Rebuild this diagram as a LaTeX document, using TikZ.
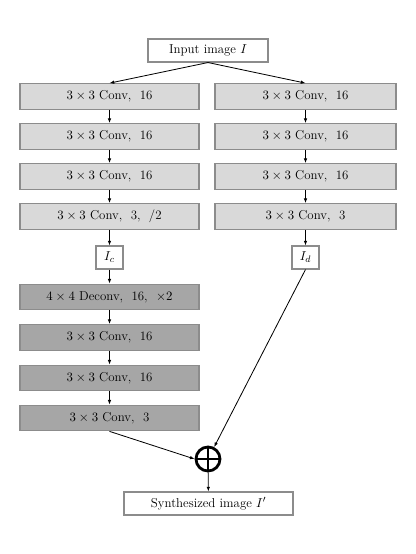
\documentclass[tikz,border=0pt]{standalone}
\usetikzlibrary{arrows.meta}
\definecolor{boxline}{HTML}{8C8C8C}
\definecolor{lightfill}{HTML}{D9D9D9}
\definecolor{darkfill}{HTML}{A6A6A6}
\begin{document}
\begin{tikzpicture}[x=0.03cm, y=-0.03cm, >={Latex[length=4pt,width=3pt]}, line width=0.7pt,
		font=\fontsize{11}{13}\selectfont]
	\tikzset{
		layer/.style={draw=boxline, line width=0.9pt, minimum width=5.37cm, minimum height=0.77cm, inner sep=0pt},
		light/.style={layer, fill=lightfill},
		dark/.style={layer, fill=darkfill},
		plain/.style={draw=boxline, line width=0.9pt, fill=white, minimum height=0.69cm, inner sep=2pt}
	}
	\useasboundingbox (0,0) rectangle (415,554);
	% input and two branches
	\node [plain, minimum width=3.6cm] (input) at (208,50.5) {Input image $I$};
	\node [light] (c1) at (109.5,96.5) {$3\times3$ Conv,~ 16};
	\node [light] (c2) at (109.5,136.5) {$3\times3$ Conv,~ 16};
	\node [light] (c3) at (109.5,176.5) {$3\times3$ Conv,~ 16};
	\node [light] (c4) at (109.5,216.5) {$3\times3$ Conv,~ 3,~ /2};
	\node [light, minimum width=5.43cm] (d1) at (305.5,96.5) {$3\times3$ Conv,~ 16};
	\node [light, minimum width=5.43cm] (d2) at (305.5,136.5) {$3\times3$ Conv,~ 16};
	\node [light, minimum width=5.43cm] (d3) at (305.5,176.5) {$3\times3$ Conv,~ 16};
	\node [light, minimum width=5.43cm] (d4) at (305.5,216.5) {$3\times3$ Conv,~ 3};
	\node [plain, minimum width=0.81cm] (ic) at (109.5,257.5) {$I_c$};
	\node [plain, minimum width=0.81cm] (id) at (305.5,257.5) {$I_d$};
	% upsampling branch
	\node [dark] (u1) at (109.5,297) {$4\times4$ Deconv,~ 16,~ $\times2$};
	\node [dark] (u2) at (109.5,337.5) {$3\times3$ Conv,~ 16};
	\node [dark] (u3) at (109.5,378) {$3\times3$ Conv,~ 16};
	\node [dark] (u4) at (109.5,418) {$3\times3$ Conv,~ 3};
	\node [circle, draw, line width=2.4pt, minimum size=0.72cm, inner sep=0pt] (sum) at (208,459) {};
	\draw [line width=1.3pt] (sum.north)--(sum.south) (sum.west)--(sum.east);
	\node [plain, minimum width=5.07cm] (out) at (208.5,503.5) {Synthesized image $I'$};
	\draw [->] (input.south)--(c1.north);
	\draw [->] (input.south)--(d1.north);
	\draw [->] (c1)--(c2);
	\draw [->] (c2)--(c3);
	\draw [->] (c3)--(c4);
	\draw [->] (c4)--(ic);
	\draw [->] (ic)--(u1);
	\draw [->] (u1)--(u2);
	\draw [->] (u2)--(u3);
	\draw [->] (u3)--(u4);
	\draw [->] (d1)--(d2);
	\draw [->] (d2)--(d3);
	\draw [->] (d3)--(d4);
	\draw [->] (d4)--(id);
	\draw [->] (u4.south)--(sum.west);
	\draw [->] (id.south)--(sum);
	\draw [->] (sum)--(out);
\end{tikzpicture}
\end{document}
